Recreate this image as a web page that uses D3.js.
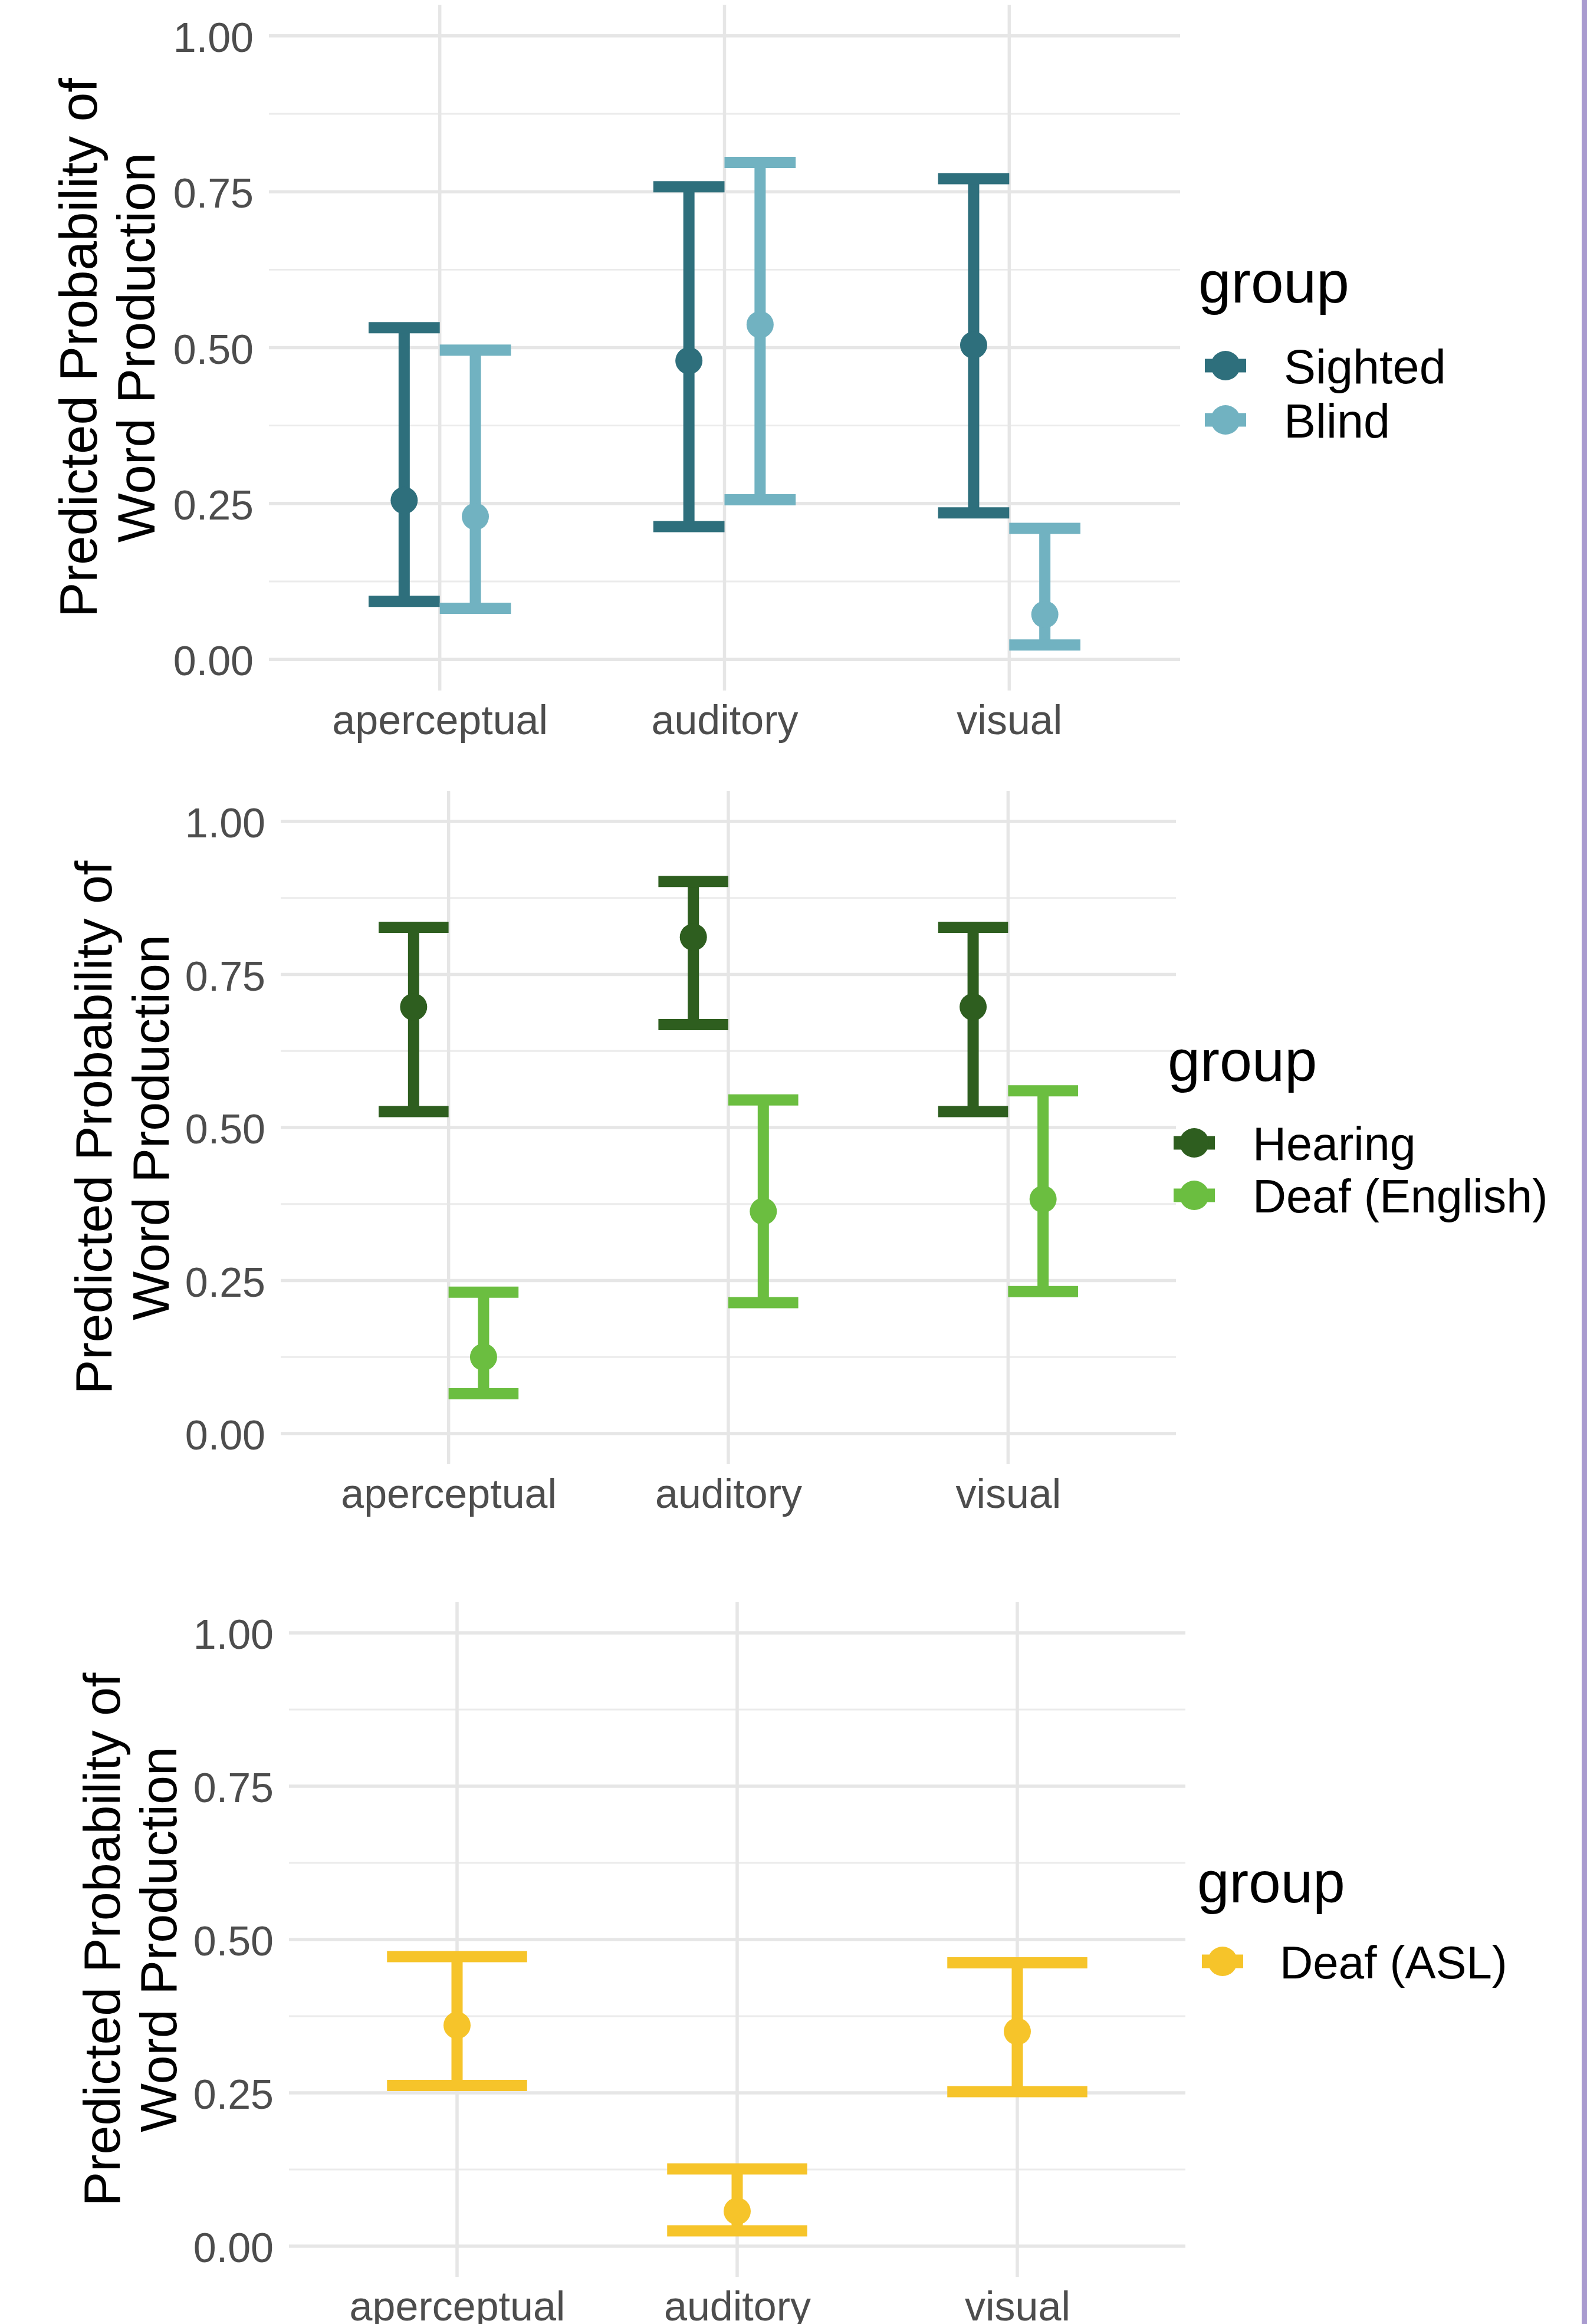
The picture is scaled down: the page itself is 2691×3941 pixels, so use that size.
<!DOCTYPE html>
<html>
<head>
<meta charset="utf-8">
<script src="https://cdn.jsdelivr.net/npm/d3@7"></script>
<style>
  body { margin: 0; background: #fff; }
  svg { display: block; font-family: "Liberation Sans", Arial, sans-serif; }
</style>
</head>
<body>
<svg id="chart"></svg>
<script>
// categories and ticks
const categories = ["aperceptual", "auditory", "visual"];
const yTickValues = [0, 0.25, 0.5, 0.75, 1];
const yMinorValues = [0.125, 0.375, 0.625, 0.875];

// panel 1 - sighted vs blind
const visionGroups = ["Sighted", "Blind"];
const sightedFit  = [0.255, 0.479, 0.504];
const sightedLow  = [0.093, 0.213, 0.235];
const sightedHigh = [0.532, 0.758, 0.771];
const blindFit  = [0.229, 0.537, 0.072];
const blindLow  = [0.082, 0.256, 0.023];
const blindHigh = [0.496, 0.797, 0.210];

// panel 2 - hearing vs deaf (english)
const hearingGroups = ["Hearing", "Deaf (English)"];
const hearingFit  = [0.697, 0.811, 0.697];
const hearingLow  = [0.526, 0.668, 0.526];
const hearingHigh = [0.827, 0.902, 0.827];
const deafEngFit  = [0.125, 0.363, 0.383];
const deafEngLow  = [0.065, 0.214, 0.232];
const deafEngHigh = [0.231, 0.545, 0.560];

// panel 3 - deaf (asl)
const aslGroups = ["Deaf (ASL)"];
const aslFit  = [0.360, 0.057, 0.350];
const aslLow  = [0.262, 0.025, 0.252];
const aslHigh = [0.472, 0.126, 0.462];

const W = 2691, H = 3941;
const svg = d3.select('#chart').attr('width', W).attr('height', H);

svg.append('rect').attr('width', W).attr('height', H).attr('fill', '#fff');
// lavender strip on the right edge
svg.append('rect')
   .attr('x', 2682).attr('y', 0)
   .attr('width', 9).attr('height', H)
   .attr('fill', '#A99BCF');

const panels = [
  {
    groups: visionGroups,
    colors: ['#2E6F7C', '#71B2C1'],
    fit: [sightedFit, blindFit], low: [sightedLow, blindLow], high: [sightedHigh, blindHigh],
    top: 8, bottom: 1171, left: 456, right: 2001,
    t1: 164, t2: 262, titleSize: 89,
    lg: { tx: 2032, ty: 513, tsize: 100, kx: 2078, ky: 620, step: 92, lx: 2177, lsize: 81 }
  },
  {
    groups: hearingGroups,
    colors: ['#2E5E1F', '#6BBE40'],
    fit: [hearingFit, deafEngFit], low: [hearingLow, deafEngLow], high: [hearingHigh, deafEngHigh],
    top: 1341, bottom: 2483, left: 476, right: 1994,
    t1: 189, t2: 286, titleSize: 88,
    lg: { tx: 1980, ty: 1833, tsize: 99, kx: 2025, ky: 1938, step: 89, lx: 2124, lsize: 79 }
  },
  {
    groups: aslGroups,
    colors: ['#F6C42A'],
    fit: [aslFit], low: [aslLow], high: [aslHigh],
    top: 2717, bottom: 3861, left: 490, right: 2010,
    t1: 203, t2: 299, titleSize: 88,
    lg: { tx: 2030, ty: 3226, tsize: 98, kx: 2073, ky: 3326, step: 89, lx: 2170, lsize: 78 }
  }
];

panels.forEach(p => {
  const g = svg.append('g');

  const x = d3.scalePoint().domain(categories).range([p.left, p.right]).padding(0.6);
  const y = d3.scaleLinear().domain([-0.05, 1.05]).range([p.bottom, p.top]);
  const step = x.step();
  const dodge = d3.scaleBand().domain(p.groups).range([-0.25 * step, 0.25 * step]);
  const bw = dodge.bandwidth();

  // grid
  g.selectAll('.minor').data(yMinorValues).join('line')
    .attr('x1', p.left).attr('x2', p.right)
    .attr('y1', d => y(d)).attr('y2', d => y(d))
    .attr('stroke', '#EBEBEB').attr('stroke-width', 2.8);
  g.selectAll('.major').data(yTickValues).join('line')
    .attr('x1', p.left).attr('x2', p.right)
    .attr('y1', d => y(d)).attr('y2', d => y(d))
    .attr('stroke', '#E6E6E6').attr('stroke-width', 5.5);
  g.selectAll('.vgrid').data(categories).join('line')
    .attr('x1', d => x(d)).attr('x2', d => x(d))
    .attr('y1', p.top).attr('y2', p.bottom)
    .attr('stroke', '#E6E6E6').attr('stroke-width', 5.5);

  // axes
  const yAxis = g.append('g')
    .attr('transform', `translate(${p.left},0)`)
    .call(d3.axisLeft(y).tickValues(yTickValues).tickFormat(d3.format('.2f')).tickSize(0).tickPadding(26));
  const xAxis = g.append('g')
    .attr('transform', `translate(0,${p.bottom})`)
    .call(d3.axisBottom(x).tickSize(0).tickPadding(24));
  [yAxis, xAxis].forEach(a => {
    a.select('.domain').remove();
    a.selectAll('text')
      .attr('fill', '#4D4D4D')
      .style('font-size', '70px')
      .style('font-family', '"Liberation Sans", Arial, sans-serif');
  });
  yAxis.selectAll('text').attr('dy', '0.38em');

  // y title
  const cy = (p.top + p.bottom) / 2;
  const title = g.append('text')
    .attr('transform', `translate(${p.t1},${cy}) rotate(-90)`)
    .attr('text-anchor', 'middle')
    .attr('fill', '#000')
    .style('font-size', p.titleSize + 'px');
  title.append('tspan').attr('x', 0).attr('y', 0).text('Predicted Probability of');
  title.append('tspan').attr('x', 0).attr('y', p.t2 - p.t1).text('Word Production');

  // error bars and points
  p.groups.forEach((grp, gi) => {
    const rows = categories.map((c, i) => ({
      c, fit: p.fit[gi][i], low: p.low[gi][i], high: p.high[gi][i]
    }));
    const cx = d => x(d.c) + dodge(grp) + bw / 2;
    const s = g.append('g').attr('stroke', p.colors[gi]).attr('fill', p.colors[gi]);
    s.selectAll('.v').data(rows).join('line')
      .attr('x1', cx).attr('x2', cx)
      .attr('y1', d => y(d.low)).attr('y2', d => y(d.high))
      .attr('stroke-width', 19);
    s.selectAll('.lo').data(rows).join('line')
      .attr('x1', d => cx(d) - bw / 2).attr('x2', d => cx(d) + bw / 2)
      .attr('y1', d => y(d.low)).attr('y2', d => y(d.low))
      .attr('stroke-width', 19);
    s.selectAll('.hi').data(rows).join('line')
      .attr('x1', d => cx(d) - bw / 2).attr('x2', d => cx(d) + bw / 2)
      .attr('y1', d => y(d.high)).attr('y2', d => y(d.high))
      .attr('stroke-width', 19);
    s.selectAll('circle').data(rows).join('circle')
      .attr('cx', cx).attr('cy', d => y(d.fit))
      .attr('r', 23).attr('stroke', 'none');
  });

  // legend
  const lg = g.append('g');
  lg.append('text')
    .attr('x', p.lg.tx).attr('y', p.lg.ty)
    .attr('fill', '#000')
    .style('font-size', p.lg.tsize + 'px')
    .text('group');
  p.groups.forEach((grp, gi) => {
    const ky = p.lg.ky + gi * p.lg.step;
    lg.append('rect')
      .attr('x', p.lg.kx - 35).attr('y', ky - 11.5)
      .attr('width', 70).attr('height', 23)
      .attr('fill', p.colors[gi]);
    lg.append('circle')
      .attr('cx', p.lg.kx).attr('cy', ky).attr('r', 25)
      .attr('fill', p.colors[gi]);
    lg.append('text')
      .attr('x', p.lg.lx).attr('y', ky)
      .attr('dy', '0.37em')
      .attr('fill', '#000')
      .style('font-size', p.lg.lsize + 'px')
      .text(grp);
  });
});
</script>
</body>
</html>
